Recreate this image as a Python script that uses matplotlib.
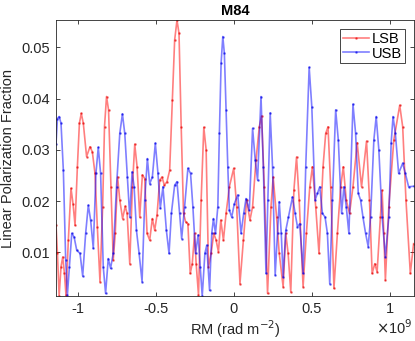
import matplotlib
matplotlib.use("Agg")
import matplotlib.pyplot as plt

plt.rcParams['font.family'] = ['Liberation Sans', 'DejaVu Sans']

# RM in units of 1e9 rad m^-2
lsb_rm = [-1.140, -1.131, -1.120, -1.108, -1.097, -1.086, -1.076, -1.061, -1.044, -1.031,
          -1.018, -1.003, -0.990, -0.978, -0.965, -0.944, -0.922, -0.907, -0.890, -0.875,
          -0.858, -0.841, -0.829, -0.816, -0.803, -0.788, -0.773, -0.760, -0.745, -0.731,
          -0.713, -0.696, -0.684, -0.667, -0.650, -0.635, -0.620, -0.603, -0.586, -0.571,
          -0.556, -0.539, -0.522, -0.507, -0.492, -0.475, -0.460, -0.445, -0.428, -0.411,
          -0.394, -0.379, -0.364, -0.351, -0.337, -0.322, -0.309, -0.294, -0.279, -0.266,
          -0.251, -0.241, -0.226, -0.209, -0.192, -0.177, -0.162, -0.145, -0.128, -0.113,
          -0.098, -0.083, -0.066, -0.049, -0.028, 0.000, 0.019, 0.040, 0.062, 0.083,
          0.104, 0.121, 0.143, 0.164, 0.179, 0.196, 0.217, 0.239, 0.253, 0.275,
          0.292, 0.317, 0.334, 0.349, 0.366, 0.386, 0.403, 0.420, 0.445, 0.466,
          0.488, 0.505, 0.526, 0.547, 0.573, 0.590, 0.605, 0.622, 0.643, 0.665,
          0.686, 0.703, 0.722, 0.743, 0.765, 0.792, 0.820, 0.852, 0.871, 0.888,
          0.905, 0.920, 0.941, 0.952, 0.963, 0.973, 0.995, 1.027, 1.065, 1.084,
          1.105, 1.133, 1.154]
lsb_frac = [0.0153, 0.0098, 0.0015, 0.0072, 0.0091, 0.0059, 0.0016, 0.0124, 0.0225, 0.0195,
            0.0153, 0.0267, 0.0352, 0.0371, 0.0352, 0.0287, 0.0306, 0.0296, 0.0254, 0.0150,
            0.0043, 0.0189, 0.0345, 0.0404, 0.0378, 0.0228, 0.0085, 0.0137, 0.0247, 0.0202,
            0.0166, 0.0190, 0.0176, 0.0078, 0.0228, 0.0311, 0.0267, 0.0169, 0.0251, 0.0244,
            0.0137, 0.0124, 0.0166, 0.0143, 0.0173, 0.0241, 0.0247, 0.0231, 0.0238, 0.0260,
            0.0397, 0.0514, 0.0553, 0.0527, 0.0345, 0.0176, 0.0160, 0.0156, 0.0059, 0.0078,
            0.0137, 0.0078, 0.0017, 0.0202, 0.0344, 0.0300, 0.0072, 0.0098, 0.0137, 0.0124,
            0.0101, 0.0163, 0.0124, 0.0176, 0.0228, 0.0264, 0.0189, 0.0039, 0.0124, 0.0202,
            0.0163, 0.0189, 0.0280, 0.0345, 0.0366, 0.0228, 0.0020, 0.0189, 0.0247, 0.0169,
            0.0098, 0.0033, 0.0137, 0.0098, 0.0023, 0.0221, 0.0286, 0.0202, 0.0033, 0.0137,
            0.0228, 0.0267, 0.0189, 0.0098, 0.0267, 0.0332, 0.0345, 0.0228, 0.0030, 0.0137,
            0.0228, 0.0267, 0.0202, 0.0176, 0.0228, 0.0314, 0.0228, 0.0317, 0.0202, 0.0059,
            0.0078, 0.0062, 0.0169, 0.0221, 0.0137, 0.0046, 0.0189, 0.0319, 0.0387, 0.0345,
            0.0202, 0.0059, 0.0117]

usb_rm = [-1.140, -1.131, -1.120, -1.108, -1.093, -1.078, -1.067, -1.054, -1.039, -1.024,
          -1.007, -0.986, -0.969, -0.950, -0.933, -0.918, -0.901, -0.884, -0.869, -0.854,
          -0.837, -0.822, -0.805, -0.790, -0.773, -0.752, -0.731, -0.714, -0.699, -0.682,
          -0.667, -0.652, -0.639, -0.624, -0.607, -0.588, -0.571, -0.554, -0.539, -0.522,
          -0.503, -0.486, -0.471, -0.454, -0.432, -0.415, -0.400, -0.379, -0.364, -0.347,
          -0.334, -0.315, -0.294, -0.277, -0.262, -0.245, -0.228, -0.215, -0.202, -0.185,
          -0.173, -0.155, -0.141, -0.130, -0.117, -0.102, -0.092, -0.081, -0.070, -0.060,
          -0.049, -0.038, -0.028, -0.013, 0.004, 0.026, 0.047, 0.064, 0.079, 0.100,
          0.121, 0.138, 0.153, 0.175, 0.190, 0.207, 0.219, 0.234, 0.249, 0.266,
          0.281, 0.292, 0.305, 0.317, 0.334, 0.351, 0.377, 0.394, 0.409, 0.424,
          0.445, 0.462, 0.484, 0.501, 0.522, 0.537, 0.552, 0.569, 0.586, 0.601,
          0.616, 0.633, 0.654, 0.671, 0.692, 0.707, 0.722, 0.739, 0.765, 0.782,
          0.799, 0.814, 0.829, 0.846, 0.863, 0.878, 0.899, 0.914, 0.931, 0.952,
          0.973, 0.995, 1.010, 1.022, 1.037, 1.058, 1.084, 1.101, 1.122, 1.154]
usb_frac = [0.0312, 0.0361, 0.0365, 0.0352, 0.0260, 0.0085, 0.0017, 0.0072, 0.0137, 0.0130,
            0.0104, 0.0098, 0.0054, 0.0137, 0.0192, 0.0163, 0.0108, 0.0254, 0.0305, 0.0254,
            0.0072, 0.0020, 0.0088, 0.0069, 0.0098, 0.0228, 0.0332, 0.0370, 0.0332, 0.0247,
            0.0169, 0.0257, 0.0228, 0.0143, 0.0098, 0.0043, 0.0202, 0.0283, 0.0234, 0.0247,
            0.0313, 0.0254, 0.0186, 0.0228, 0.0143, 0.0098, 0.0176, 0.0231, 0.0238, 0.0176,
            0.0127, 0.0189, 0.0264, 0.0254, 0.0189, 0.0098, 0.0134, 0.0072, 0.0015, 0.0098,
            0.0114, 0.0026, 0.0137, 0.0166, 0.0137, 0.0189, 0.0332, 0.0469, 0.0521, 0.0488,
            0.0378, 0.0267, 0.0182, 0.0169, 0.0195, 0.0212, 0.0137, 0.0176, 0.0205, 0.0182,
            0.0342, 0.0280, 0.0241, 0.0404, 0.0267, 0.0059, 0.0202, 0.0372, 0.0267, 0.0056,
            0.0137, 0.0199, 0.0137, 0.0052, 0.0143, 0.0169, 0.0208, 0.0176, 0.0150, 0.0156,
            0.0059, 0.0267, 0.0461, 0.0384, 0.0202, 0.0215, 0.0228, 0.0176, 0.0169, 0.0137,
            0.0039, 0.0202, 0.0378, 0.0319, 0.0176, 0.0228, 0.0189, 0.0137, 0.0389, 0.0332,
            0.0215, 0.0202, 0.0169, 0.0137, 0.0111, 0.0169, 0.0319, 0.0365, 0.0300, 0.0169,
            0.0091, 0.0169, 0.0313, 0.0365, 0.0332, 0.0254, 0.0274, 0.0254, 0.0228, 0.0229]

fig = plt.figure(figsize=(4.15, 3.41), dpi=100)
ax = fig.add_axes([0.135, 0.132, 0.862, 0.809])

ax.plot(lsb_rm, lsb_frac, color=(1, 0, 0), alpha=0.5, lw=1.2, marker='.', ms=1.8,
        mec=(0.9, 0, 0), mfc=(0.9, 0, 0), label='LSB')
ax.plot(usb_rm, usb_frac, color=(0, 0, 1), alpha=0.5, lw=1.2, marker='.', ms=1.8,
        mec=(0, 0, 0.9), mfc=(0, 0, 0.9), label='USB')

ax.set_xlim(-1.14, 1.155)
ax.set_ylim(0.0015, 0.0553)
ax.set_xticks([-1, -0.5, 0, 0.5, 1])
ax.set_xticklabels(['-1', '-0.5', '0', '0.5', '1'])
ax.set_yticks([0.01, 0.02, 0.03, 0.04, 0.05])
ax.set_yticklabels(['0.01', '0.02', '0.03', '0.04', '0.05'])

for s in ax.spines.values():
    s.set_color('0.15')
    s.set_linewidth(0.6)
ax.tick_params(direction='in', top=True, right=True, length=3, width=0.6,
               color='0.15', labelsize=10.5, labelcolor='0.15', pad=4)

ax.set_title('M84', fontsize=10.5, fontweight='bold', pad=4)
ax.set_ylabel('Linear Polarization Fraction', fontsize=10.5, color='0.15', labelpad=5)
ax.set_xlabel('RM (rad m$^{-2}$)', fontsize=10.5, color='0.15', labelpad=2)
ax.text(0.995, -0.115, r'$\times$10$^9$', transform=ax.transAxes, ha='right', va='center',
        fontsize=10.5, color='0.15')

leg = ax.legend(loc='upper right', fontsize=10.5, handlelength=1.8, handletextpad=0.2,
                borderpad=0.2, labelspacing=0.05, fancybox=False, framealpha=1,
                borderaxespad=0.6)
leg.get_frame().set_edgecolor('0.15')
leg.get_frame().set_linewidth(0.6)

fig.savefig('out.png', dpi=100)
